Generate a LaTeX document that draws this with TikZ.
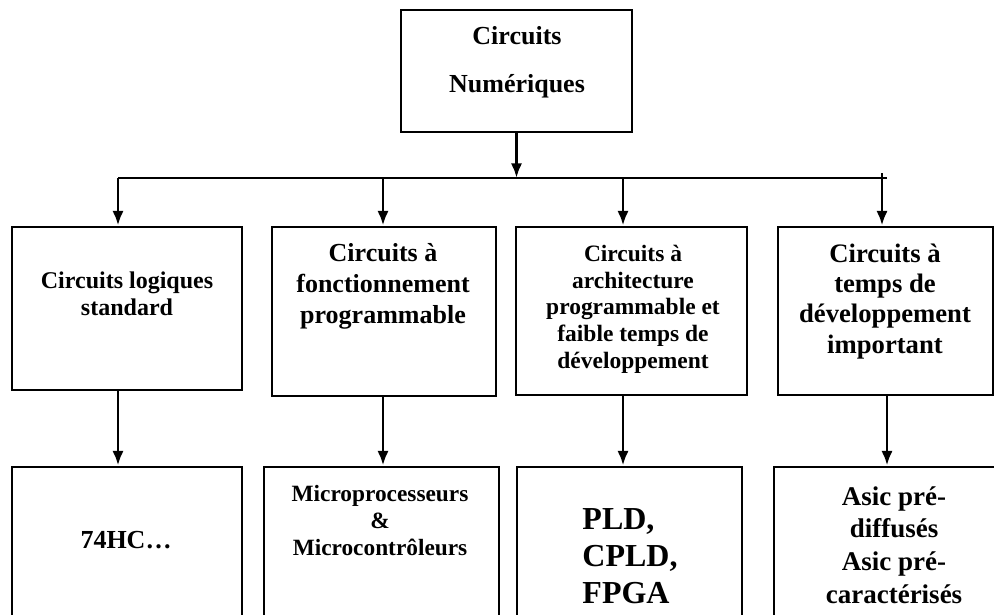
\documentclass[tikz,border=0pt]{standalone}
\usepackage{fontspec}
\setmainfont{Liberation Serif}
\usetikzlibrary{arrows.meta,positioning}

\begin{document}
\begin{tikzpicture}[x=0.75pt,y=-0.75pt,line width=2.2pt,
  >={Latex[length=11pt,width=8.5pt]},
  box/.style={draw=black, rectangle, inner sep=0pt},
  txt/.style={align=center, anchor=base, inner sep=0pt}]
\useasboundingbox (0,0) rectangle (994,614);
\clip (0,0) rectangle (994,614);

% boxes
\node[box, minimum width=173.25pt, minimum height=91.5pt] (top) at (516.5,71) {};
\node[box, minimum width=172.5pt, minimum height=122.25pt] (b1) at (127,308.5) {};
\node[box, minimum width=168pt, minimum height=126.75pt] (b2) at (384,311.5) {};
\node[box, minimum width=173.25pt, minimum height=126pt] (b3) at (631.5,311) {};
\node[box, minimum width=161.25pt, minimum height=126pt] (b4) at (885.5,311) {};
\node[box, minimum width=172.5pt, minimum height=150pt] (c1) at (127,567) {};
\node[box, minimum width=176.25pt, minimum height=150pt] (c2) at (381.5,567) {};
\node[box, minimum width=168.75pt, minimum height=150pt] (c3) at (629.5,567) {};
\node[box, minimum width=169.5pt, minimum height=150pt] (c4) at (887,567) {};

% texts (anchored on the last line)
\node[txt, font=\fontsize{19.5}{36}\selectfont\bfseries] (ttop) at (517,92) {Circuits\\Numériques};
\node[txt, font=\fontsize{18}{20.25}\selectfont\bfseries] (tb1) at (127,315) {Circuits logiques\\standard};
\node[txt, font=\fontsize{19.5}{23}\selectfont\bfseries] (tb2) at (383,323) {Circuits à\\fonctionnement\\programmable};
\node[txt, font=\fontsize{17.6}{20}\selectfont\bfseries] (tb3) at (633,368) {Circuits à\\architecture\\programmable et\\faible temps de\\développement};
\node[txt, font=\fontsize{20}{22.75}\selectfont\bfseries] (tb4) at (885,353) {Circuits à\\temps de\\développement\\important};
\node[txt, font=\fontsize{19.5}{24}\selectfont\bfseries] (tc1) at (126,548) {74HC…};
\node[txt, font=\fontsize{17.5}{20.25}\selectfont\bfseries] (tc2) at (380,555) {Microprocesseurs\\\&\\Microcontrôleurs};
\node[txt, align=left, font=\fontsize{24}{27.4}\selectfont\bfseries] (tc3) at (630,603) {PLD,\\CPLD,\\FPGA};
\node[txt, font=\fontsize{20.25}{24.5}\selectfont\bfseries] (tc4) at (894,603) {Asic pré-\\diffusés\\Asic pré-\\caractérisés};

% bus and arrows
\coordinate (j1) at (118,178);
\coordinate (j2) at (383,178);
\coordinate (j3) at (623,178);
\coordinate (j4) at (882,173);
\coordinate (jend) at (887,178);
\draw[->] (top.south) -- (top.south |- j1);
\draw (j1) -- (jend);
\draw[->] (j1) -- (j1 |- b1.north);
\draw[->] (j2) -- (j2 |- b2.north);
\draw[->] (j3) -- (j3 |- b3.north);
\draw[->] (j4) -- (j4 |- b4.north);
\draw[->] (j1 |- b1.south) -- (j1 |- c1.north);
\draw[->] (j2 |- b2.south) -- (j2 |- c2.north);
\draw[->] (j3 |- b3.south) -- (j3 |- c3.north);
\draw[->] (jend |- b4.south) -- (jend |- c4.north);
\end{tikzpicture}
\end{document}
